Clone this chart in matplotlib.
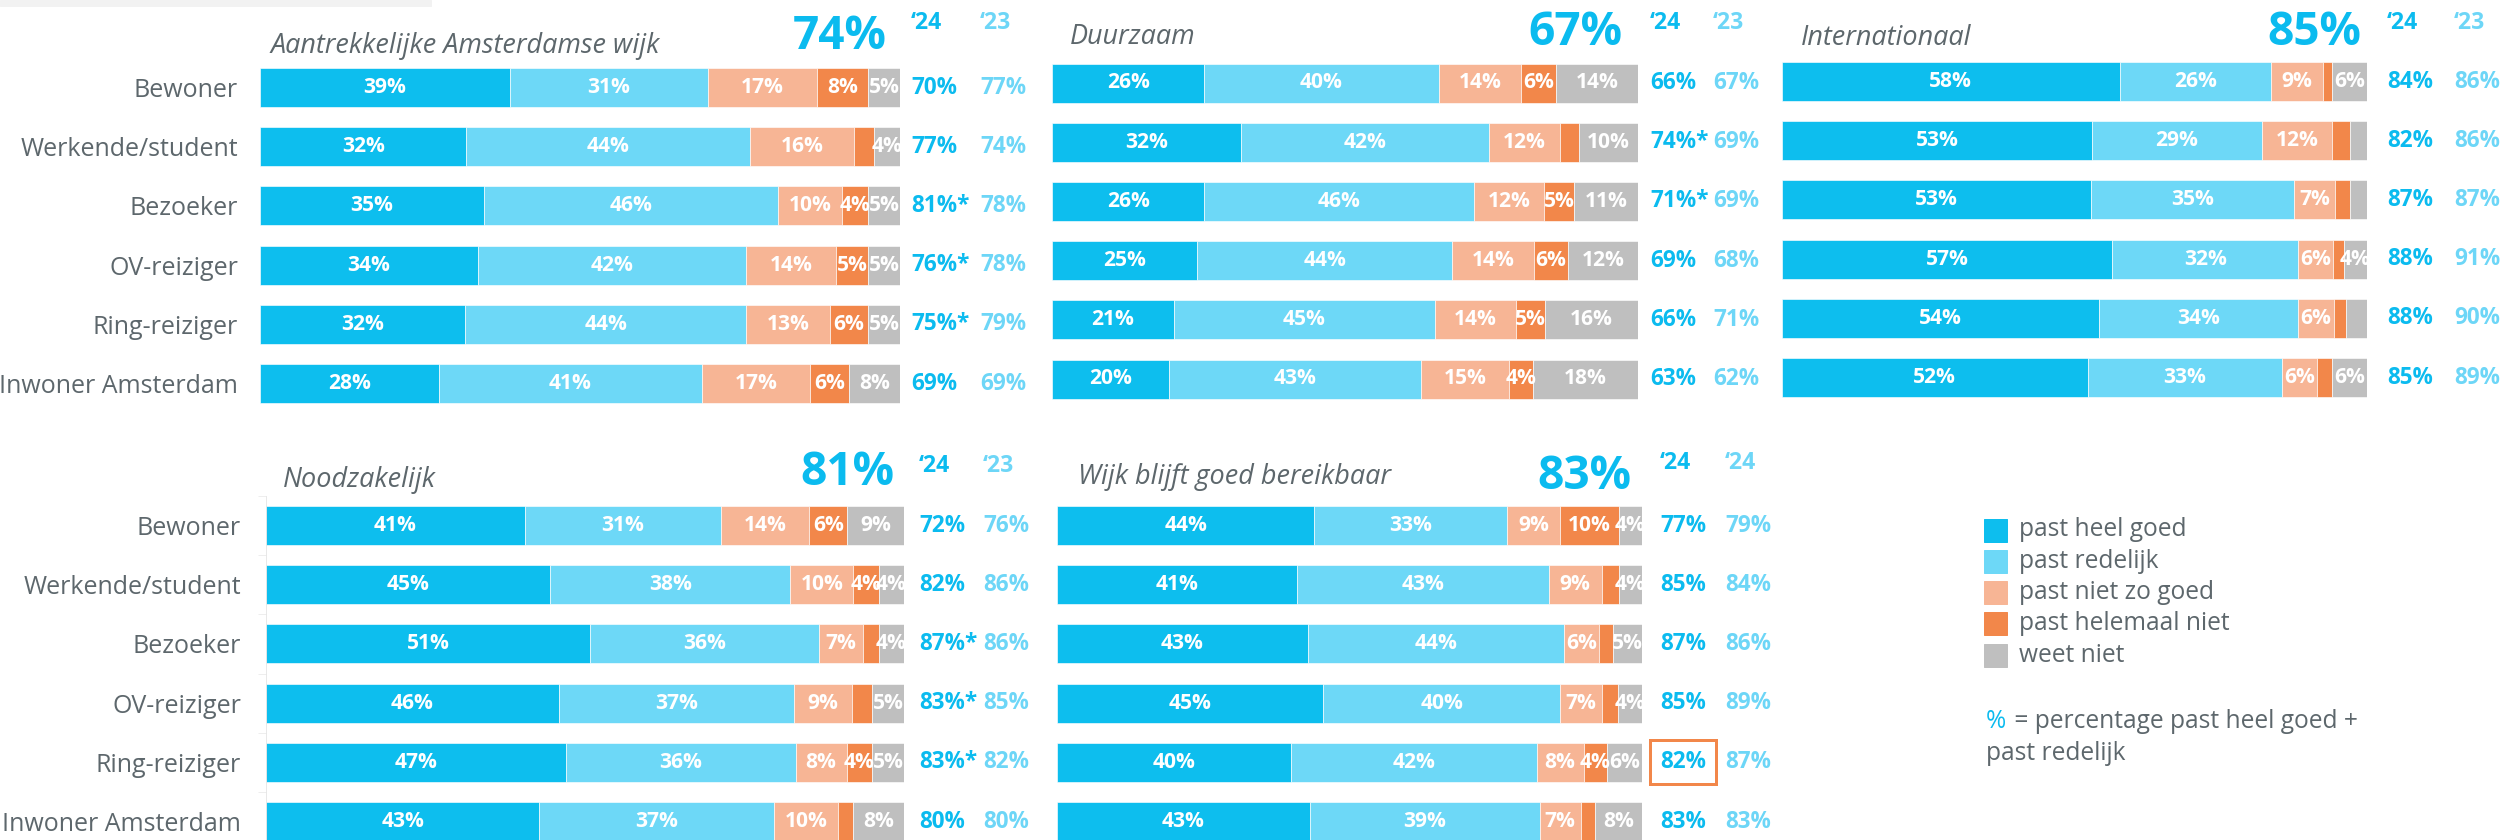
import numpy as np
import matplotlib
matplotlib.use("Agg")
import matplotlib.pyplot as plt
from matplotlib.transforms import blended_transform_factory

plt.rcParams['font.family'] = ['Open Sans', 'DejaVu Sans']

# -------------------------------------------------------
# Data (widths with a decimal = segments without a printed label)
# -------------------------------------------------------
groups = ["Bewoner", "Werkende/student", "Bezoeker", "OV-reiziger",
          "Ring-reiziger", "Inwoner Amsterdam"]
categories = ["past heel goed", "past redelijk", "past niet zo goed",
              "past helemaal niet", "weet niet"]

titles = ["Aantrekkelijke Amsterdamse wijk", "Duurzaam", "Internationaal",
          "Noodzakelijk", "Wijk blijft goed bereikbaar"]
totals = [74, 67, 85, 81, 83]
col_heads = [("\u201824", "\u201823"), ("\u201824", "\u201823"), ("\u201824", "\u201823"),
             ("\u201824", "\u201823"), ("\u201824", "\u201824")]

aantrekkelijk = [[39, 31, 17, 8, 5],
                 [32, 44, 16, 3.2, 4],
                 [35, 46, 10, 4, 5],
                 [34, 42, 14, 5, 5],
                 [32, 44, 13, 6, 5],
                 [28, 41, 17, 6, 8]]
duurzaam = [[26, 40, 14, 6, 14],
            [32, 42, 12, 3.3, 10],
            [26, 46, 12, 5, 11],
            [25, 44, 14, 6, 12],
            [21, 45, 14, 5, 16],
            [20, 43, 15, 4, 18]]
internationaal = [[58, 26, 9, 1.5, 6],
                  [53, 29, 12, 3.1, 2.9],
                  [53, 35, 7, 2.6, 2.9],
                  [57, 32, 6, 1.9, 4],
                  [54, 34, 6, 2.2, 3.5],
                  [52, 33, 6, 2.5, 6]]
noodzakelijk = [[41, 31, 14, 6, 9],
                [45, 38, 10, 4, 4],
                [51, 36, 7, 2.4, 4],
                [46, 37, 9, 3.2, 5],
                [47, 36, 8, 4, 5],
                [43, 37, 10, 2.4, 8]]
bereikbaar = [[44, 33, 9, 10, 4],
              [41, 43, 9, 2.9, 4],
              [43, 44, 6, 2.3, 5],
              [45, 40, 7, 2.8, 4],
              [40, 42, 8, 4, 6],
              [43, 39, 7, 2.4, 8]]

now_24 = [["70%", "77%", "81%*", "76%*", "75%*", "69%"],
          ["66%", "74%*", "71%*", "69%", "66%", "63%"],
          ["84%", "82%", "87%", "88%", "88%", "85%"],
          ["72%", "82%", "87%*", "83%*", "83%*", "80%"],
          ["77%", "85%", "87%", "85%", "82%", "83%"]]
prev_23 = [["77%", "74%", "78%", "78%", "79%", "69%"],
           ["67%", "69%", "69%", "68%", "71%", "62%"],
           ["86%", "86%", "87%", "91%", "90%", "89%"],
           ["76%", "86%", "86%", "85%", "82%", "80%"],
           ["79%", "84%", "86%", "89%", "87%", "83%"]]

panel_data = [aantrekkelijk, duurzaam, internationaal, noodzakelijk, bereikbaar]
highlight = (4, 4)  # panel, row with orange box

colors = ["#0dbeee", "#6dd8f7", "#f7b595", "#f2874a", "#bfbfbf"]
dark_blue = "#0bbbef"
light_blue = "#6dd6f7"
grey_txt = "#5d676c"

# -------------------------------------------------------
# Layout (pixels, figure 2511x840 at 72 dpi -> 1pt = 1px)
# -------------------------------------------------------
W, H = 2511, 840
# bar x0, x1, first row center, title x/baseline, big % center/baseline,
# '24 col x, '23 col x, header baseline
layout = [
    dict(x0=260, x1=900, yc=87.5, tx=271, ty=53, bx=840, by=49, c24=911, c23=980, hy=29),
    dict(x0=1052, x1=1638, yc=83, tx=1070, ty=44, bx=1575, by=45, c24=1650, c23=1713, hy=29),
    dict(x0=1782, x1=2367, yc=81.5, tx=1801, ty=45, bx=2314, by=45, c24=2387, c23=2454, hy=29),
    dict(x0=266, x1=904, yc=525.5, tx=283, ty=487, bx=847, by=485, c24=919, c23=983, hy=472),
    dict(x0=1057, x1=1642, yc=525.5, tx=1078, ty=484, bx=1584, by=489, c24=1660, c23=1725, hy=469),
]
pitch = 59.2
bar_h = 39 / pitch

fig = plt.figure(figsize=(W / 72, H / 72), dpi=72)

# light grey strip top left
fig.patches.append(plt.Rectangle((0, 1 - 6 / H), 431 / W, 6 / H,
                                 transform=fig.transFigure, color="#f2f2f2", zorder=0))

for p, (vals, lay) in enumerate(zip(panel_data, layout)):
    top = lay["yc"] - pitch / 2
    bottom = top + pitch * len(groups)
    ax = fig.add_axes([lay["x0"] / W, 1 - bottom / H, (lay["x1"] - lay["x0"]) / W, (bottom - top) / H])
    arr = np.array(vals, dtype=float)
    widths = arr / arr.sum(axis=1, keepdims=True) * 100
    left = np.zeros(len(groups))
    y = np.arange(len(groups))
    for k in range(len(categories)):
        ax.barh(y, widths[:, k], left=left, height=bar_h, color=colors[k],
                edgecolor="white", linewidth=0.6, label=categories[k])
        for i in range(len(groups)):
            v = arr[i, k]
            if float(v).is_integer():
                ax.text(left[i] + widths[i, k] / 2, i, f"{int(v)}%", ha="center", va="center",
                        color="white", fontsize=21, fontweight="bold")
        left += widths[:, k]
    ax.set_xlim(0, 100)
    ax.set_ylim(len(groups) - 0.5, -0.5)
    ax.set_xticks([])
    for s in ax.spines.values():
        s.set_visible(False)
    if p in (0, 3):
        ax.set_yticks(y)
        ax.set_yticklabels(groups, fontsize=25, color=grey_txt)
        ax.tick_params(axis="y", length=0, pad=22 if p == 0 else 25)
    else:
        ax.set_yticks([])
    if p == 3:
        ax.spines["left"].set_visible(True)
        ax.spines["left"].set_color("#e3e3e3")
        ax.set_yticks(np.arange(-0.5, len(groups)), minor=True)
        ax.tick_params(axis="y", which="minor", length=8, color="#e3e3e3")

    tr = blended_transform_factory(fig.transFigure, ax.transData)
    for i in range(len(groups)):
        t24 = ax.text(lay["c24"] / W, i, now_24[p][i], transform=tr, ha="left", va="center",
                      fontsize=22.5, fontweight="bold", color=dark_blue)
        ax.text(lay["c23"] / W, i, prev_23[p][i], transform=tr, ha="left", va="center",
                fontsize=22.5, fontweight="bold", color=light_blue)
        if (p, i) == highlight:
            t24.set_bbox(dict(boxstyle="square,pad=0.45", facecolor="none",
                              edgecolor=colors[3], linewidth=3))

    fig.text(lay["tx"] / W, 1 - lay["ty"] / H, titles[p], ha="left", va="baseline",
             fontsize=27, style="italic", color=grey_txt)
    fig.text(lay["bx"] / W, 1 - lay["by"] / H, f"{totals[p]}%", ha="center", va="baseline",
             fontsize=46, fontweight="bold", color=dark_blue)
    fig.text(lay["c24"] / W, 1 - lay["hy"] / H, col_heads[p][0], ha="left", va="baseline",
             fontsize=23, fontweight="bold", color=dark_blue)
    fig.text(lay["c23"] / W, 1 - lay["hy"] / H, col_heads[p][1], ha="left", va="baseline",
             fontsize=23, fontweight="bold", color=light_blue)

# legend
for k, name in enumerate(categories):
    yc = 530 + k * 31.3
    fig.patches.append(plt.Rectangle((1984 / W, 1 - (yc + 11.5) / H), 23 / W, 23 / H,
                                     transform=fig.transFigure, color=colors[k]))
    fig.text(2019 / W, 1 - yc / H, name, ha="left", va="center", fontsize=24.5, color=grey_txt)

fig.text(1986 / W, 1 - 722 / H, "%", ha="left", va="center", fontsize=24.5, color=dark_blue)
fig.text(2008 / W, 1 - 722 / H, " = percentage past heel goed +", ha="left", va="center",
         fontsize=24.5, color=grey_txt)
fig.text(1986 / W, 1 - 753 / H, "past redelijk", ha="left", va="center", fontsize=24.5, color=grey_txt)

fig.savefig("out.png", dpi=72, facecolor="white")
